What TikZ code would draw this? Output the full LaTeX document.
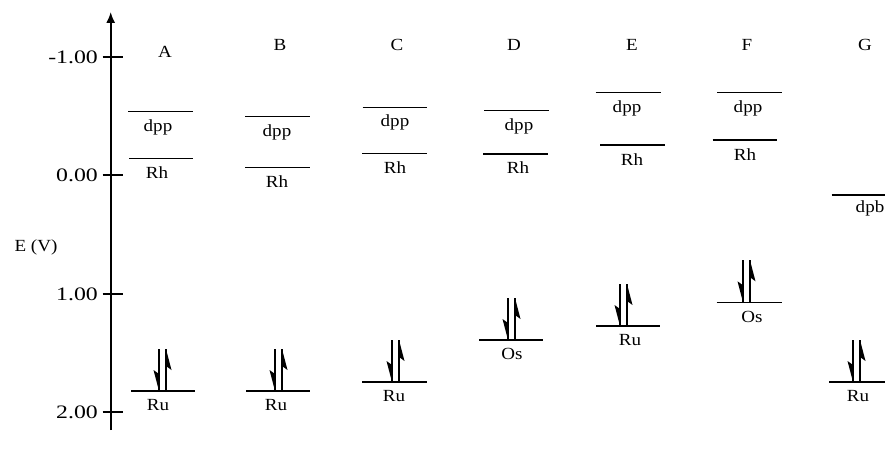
\documentclass[tikz,border=0pt]{standalone}
\usepackage{fontspec}
\setmainfont[FakeStretch=1.12]{Liberation Serif}
\newfontfamily\tickfont[FakeStretch=1.25]{Liberation Serif}
\usetikzlibrary{arrows.meta}
\newcommand\epair[2]{%
  \draw[shaft] (#1-3.5,#2-42) -- (#1-3.5,#2);
  \fill (#1-3.5,#2) -- (#1-9,#2-21) -- (#1-3.5,#2-17) -- cycle;
  \draw[shaft] (#1+3.5,#2) -- (#1+3.5,#2-42);
  \fill (#1+3.5,#2-42) -- (#1+9,#2-21) -- (#1+3.5,#2-25) -- cycle;
}
\begin{document}
\begin{tikzpicture}[x=1pt,y=-1pt,
  font=\fontsize{17}{20}\selectfont,
  lvl/.style={line width=1.1pt},
  shaft/.style={line width=1.3pt},
  lab/.style={inner sep=0pt, anchor=center},
  ticklab/.style={inner sep=0pt, anchor=east, font=\tickfont\fontsize{19}{22}\selectfont}]
\useasboundingbox (0,0) rectangle (885,457);
% axis
\coordinate (axb) at (110.7,430);
\coordinate (axt) at (110.7,12);
\draw[line width=1.6pt, -{Latex[length=11pt,width=9pt]}] (axb) -- (axt);
\foreach \yy/\tl [count=\i] in {57/-1.00,175/0.00,294/1.00,412/2.00}{
  \coordinate (tk\i) at (110.7,\yy);
  \draw[line width=1.3pt] ([xshift=-8pt]tk\i) -- ([xshift=12pt]tk\i);
  \node[ticklab] (tl\i) at (98,\yy) {\tl};
}
\node[lab] (ev) at (36,247) {E (V)};
% column headings
\node[lab] (hA) at (165,52) {A};
\node[lab] (hB) at (280,45) {B};
\node[lab] (hC) at (397,45) {C};
\node[lab] (hD) at (514,45) {D};
\node[lab] (hE) at (632,45) {E};
\node[lab] (hF) at (747,45) {F};
\node[lab] (hG) at (865,45) {G};
% upper levels
\draw[lvl] (128,111.7) -- (193,111.7);  \node[lab] (dA) at (158,127) {dpp};
\draw[lvl] (129,158.3) -- (193,158.3);  \node[lab] (rA) at (157,173) {Rh};
\draw[lvl] (245,116.7) -- (310,116.7);  \node[lab] (dB) at (277,132) {dpp};
\draw[lvl] (245,167.3) -- (310,167.3);  \node[lab] (rB) at (277,182) {Rh};
\draw[lvl] (362.7,107.3) -- (427,107.3);\node[lab] (dC) at (395,122) {dpp};
\draw[lvl] (362,153.3) -- (427,153.3);  \node[lab] (rC) at (395,168) {Rh};
\draw[lvl] (484,110.7) -- (549,110.7);  \node[lab] (dD) at (519,126) {dpp};
\draw[lvl] (483,154) -- (548,154);      \node[lab] (rD) at (518,168) {Rh};
\draw[lvl] (595.7,92.7) -- (660.7,92.7);\node[lab] (dE) at (627,108) {dpp};
\draw[lvl] (600,145) -- (665,145);      \node[lab] (rE) at (632,160) {Rh};
\draw[lvl] (717,92.7) -- (781.7,92.7);  \node[lab] (dF) at (748,108) {dpp};
\draw[lvl] (712.7,140) -- (776.7,140);  \node[lab] (rF) at (745,155) {Rh};
\draw[lvl] (831.7,195) -- (885,195);    \node[lab] (dG) at (870,208) {dpb};
% lower levels
\draw[lvl] (131,391) -- (195,391); \node[lab] (mA) at (158,405) {Ru};
\draw[lvl] (246,391) -- (310,391); \node[lab] (mB) at (276,405) {Ru};
\draw[lvl] (362,382) -- (427,382); \node[lab] (mC) at (394,396) {Ru};
\draw[lvl] (479,340) -- (543,340); \node[lab] (mD) at (512,354) {Os};
\draw[lvl] (596,326) -- (660,326); \node[lab] (mE) at (630,340) {Ru};
\draw[lvl] (716.7,302.3) -- (781.7,302.3); \node[lab] (mF) at (752,317) {Os};
\draw[lvl] (829,382) -- (885,382); \node[lab] (mG) at (858,396) {Ru};
% electron pairs
\epair{162.5}{391}
\epair{278.5}{391}
\epair{395.5}{382}
\epair{511.5}{340}
\epair{623.5}{326}
\epair{746.5}{302.3}
\epair{856.5}{382}
\end{tikzpicture}
\end{document}
